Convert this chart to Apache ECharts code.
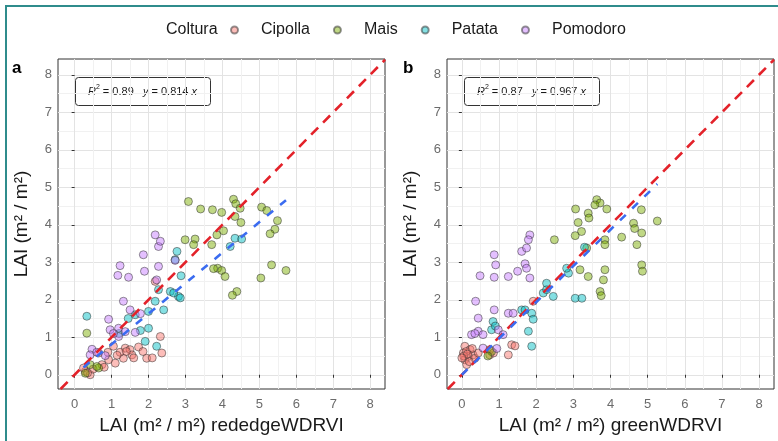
<!DOCTYPE html>
<html>
<head>
<meta charset="utf-8">
<script src="https://cdn.jsdelivr.net/npm/echarts@6/dist/echarts.min.js"></script>
<style>
  html, body { margin: 0; padding: 0; background: #ffffff; }
  #chart { width: 778px; height: 441px; }
</style>
</head>
<body>
<div id="chart"></div>
<script>
// Crop groups and their colours
const crops = ['Cipolla', 'Mais', 'Patata', 'Pomodoro'];
const cropFill = ['rgba(248,118,109,0.6)', 'rgba(124,174,0,0.6)', 'rgba(0,191,196,0.6)', 'rgba(199,124,255,0.6)'];

// Axis ticks (major labelled, minor grid only)
const majorTicks = [0, 1, 2, 3, 4, 5, 6, 7, 8];
const minorTicks = [0.5, 1.5, 2.5, 3.5, 4.5, 5.5, 6.5, 7.5];
const xLimits = [[-0.45, 8.4], [-0.4, 8.4]];
const yLimits = [-0.38, 8.42];

// Panel a: LAI from rededgeWDRVI (x) vs measured LAI (y)
const cipollaA = [[1.05,0.76],[1.37,0.71],[1.5,0.67],[1.73,0.74],[1.95,0.44],[2.32,1.02],[2.36,0.58],[0.92,0.40],[1.1,0.31],[0.74,0.27],[0.29,0.09],[0.24,0.18],[0.42,0.0],[1.32,0.44],[1.55,0.53],[1.23,0.6],[0.65,0.58],[2.18,2.49],[1.85,0.62],[2.1,0.45],[0.5,0.15],[0.9,0.6],[1.6,0.45],[0.35,0.05],[1.15,0.52],[1.4,0.62],[0.8,0.2]];
const maisA = [[3.08,4.62],[3.41,4.42],[3.73,4.40],[3.98,4.33],[4.30,4.68],[4.36,4.56],[4.48,4.44],[4.34,4.22],[4.50,4.06],[5.06,4.47],[5.20,4.38],[5.49,4.11],[5.42,3.88],[5.29,3.76],[4.03,3.84],[3.85,3.73],[3.71,3.47],[3.26,3.62],[3.22,3.47],[2.99,3.6],[3.87,2.84],[3.98,2.78],[4.07,2.62],[3.76,2.83],[5.33,2.93],[5.72,2.78],[5.04,2.58],[4.39,2.22],[4.27,2.12],[0.65,0.18],[0.42,0.27],[0.29,0.04],[0.33,1.11],[0.6,0.22]];
const patataA = [[2.77,3.29],[2.72,3.07],[2.88,2.64],[4.21,3.42],[4.34,3.64],[4.52,3.62],[2.81,2.09],[2.86,2.05],[2.59,2.22],[2.68,2.18],[2.18,1.96],[2.41,1.73],[2.0,1.69],[1.78,1.18],[2.0,1.24],[1.91,0.89],[2.22,0.76],[0.33,1.56],[1.64,1.6],[2.27,2.27],[1.45,1.5],[1.2,1.1]];
const pomodoroA = [[1.23,2.91],[1.17,2.65],[1.46,2.60],[1.86,3.2],[1.89,2.76],[2.27,3.42],[2.27,2.89],[2.72,3.05],[2.22,2.53],[2.18,3.73],[2.32,3.56],[1.32,1.96],[1.5,1.73],[1.78,1.63],[0.92,1.48],[1.19,1.24],[0.96,1.2],[1.37,1.15],[0.47,0.68],[0.42,0.53],[0.83,0.51],[1.19,1.02],[1.64,1.13],[0.6,0.6],[1.05,1.1]];

// Panel b: LAI from greenWDRVI (x) vs measured LAI (y)
const cipollaB = [[0.08,0.76],[0.22,0.67],[0.04,0.58],[0.18,0.49],[0.3,0.53],[0.08,0.4],[0.35,0.44],[0.13,0.27],[0.44,0.58],[1.34,0.8],[1.25,0.53],[0.75,0.53],[1.92,1.96],[1.43,0.77],[0.75,0.67],[0.12,0.62],[0.2,0.35],[0.05,0.5],[0.28,0.7],[0.15,0.55],[0.85,0.58],[0.0,0.45]];
const maisB = [[3.63,4.67],[3.72,4.58],[3.9,4.42],[3.58,4.53],[3.06,4.42],[3.4,4.31],[3.42,4.18],[3.13,4.06],[3.22,3.82],[3.05,3.71],[3.85,3.6],[3.85,3.47],[3.36,3.38],[4.3,3.67],[4.62,4.04],[4.65,3.9],[4.84,3.78],[4.71,3.47],[4.83,4.4],[5.26,4.1],[2.49,3.6],[3.18,2.8],[3.4,2.62],[3.85,2.8],[3.81,2.53],[3.72,2.22],[3.75,2.11],[4.84,2.93],[4.86,2.76],[0.8,0.62],[0.7,0.5]];
const patataB = [[0.84,1.42],[0.8,1.2],[1.79,1.16],[1.88,0.76],[1.88,1.64],[1.92,1.48],[1.61,1.73],[2.19,2.18],[2.46,2.09],[3.05,2.04],[3.23,2.04],[2.28,2.27],[2.28,2.44],[2.87,2.71],[2.82,2.84],[1.7,1.73],[0.9,1.3],[3.3,3.4]];
const pomodoroB = [[0.87,3.2],[0.91,2.93],[0.49,2.64],[0.87,2.6],[1.25,2.62],[1.5,2.76],[1.70,2.96],[1.74,2.84],[1.61,3.29],[1.74,3.38],[1.83,2.58],[1.83,3.73],[1.79,3.6],[0.37,1.96],[0.87,1.73],[1.25,1.64],[1.38,1.64],[0.44,1.51],[0.26,1.07],[0.44,1.16],[0.57,1.07],[0.98,1.2],[1.11,1.07],[0.57,0.71],[0.94,0.7],[0.35,1.1]];

// Fit statistics (regression through the origin)
const slopes = [0.814, 0.967];
const r2s = ['0.89', '0.87'];
const xTitles = ['LAI (m\u00b2 / m\u00b2) rededgeWDRVI', 'LAI (m\u00b2 / m\u00b2) greenWDRVI'];
const yTitle = 'LAI (m\u00b2 / m\u00b2)';
const panelTags = ['a', 'b'];

const panelData = [
  [cipollaA, maisA, patataA, pomodoroA],
  [cipollaB, maisB, patataB, pomodoroB]
];

const grids = [
  { left: 58, top: 59, width: 327, height: 330 },
  { left: 447, top: 59, width: 327, height: 330 }
];

const FONT = 'Liberation Sans, Arial, sans-serif';

function majorAxis(p, isX) {
  const lim = isX ? xLimits[p] : yLimits;
  return {
    type: 'value', gridIndex: p, min: lim[0], max: lim[1],
    position: isX ? 'bottom' : 'left',
    axisLine: { show: false },
    axisTick: { show: true, customValues: majorTicks, length: 3, lineStyle: { color: '#333333', width: 1 } },
    axisLabel: { customValues: majorTicks, color: '#6b6b6b', fontSize: 13, fontFamily: FONT, margin: isX ? 9 : 6 },
    splitLine: { show: true, lineStyle: { color: '#e3e3e3', width: 1 } },
    name: isX ? xTitles[p] : yTitle,
    nameLocation: 'middle',
    nameGap: 27,
    nameTextStyle: { fontSize: 19, color: '#1a1a1a', fontFamily: FONT }
  };
}
function minorAxis(p, isX) {
  const lim = isX ? xLimits[p] : yLimits;
  return {
    type: 'value', gridIndex: p, min: lim[0], max: lim[1],
    position: isX ? 'top' : 'right',
    axisLine: { show: false },
    axisTick: { show: false, customValues: minorTicks },
    axisLabel: { show: false, customValues: minorTicks },
    splitLine: { show: true, lineStyle: { color: '#f1f1f1', width: 1 } }
  };
}

const xAxes = [], yAxes = [], series = [];
for (let p = 0; p < 2; p++) {
  xAxes.push(majorAxis(p, true), minorAxis(p, true));
  yAxes.push(majorAxis(p, false), minorAxis(p, false));
  const ax = 2 * p;
  let xs = [];
  panelData[p].forEach((pts, i) => {
    xs = xs.concat(pts.map(d => d[0]));
    series.push({
      type: 'scatter', name: crops[i], xAxisIndex: ax, yAxisIndex: ax,
      data: pts, symbol: 'circle', symbolSize: 8,
      itemStyle: { color: cropFill[i], borderColor: 'rgba(50,50,50,0.65)', borderWidth: 1 },
      z: 3
    });
  });
  // 1:1 line across the whole panel
  const lo = Math.max(xLimits[p][0], yLimits[0]);
  const hi = Math.min(xLimits[p][1], yLimits[1]);
  series.push({
    type: 'line', xAxisIndex: ax, yAxisIndex: ax, symbol: 'none', silent: true,
    data: [[lo, lo], [hi, hi]],
    lineStyle: { color: '#e3222a', width: 2.6, type: [10, 7] }, z: 4
  });
  // fitted line y = slope * x over the data range
  const x0 = Math.min(...xs), x1 = Math.max(...xs);
  series.push({
    type: 'line', xAxisIndex: ax, yAxisIndex: ax, symbol: 'none', silent: true,
    data: [[x0, slopes[p] * x0], [x1, slopes[p] * x1]],
    lineStyle: { color: '#3b6cf0', width: 2.6, type: [8, 9] }, z: 5
  });
}

const graphics = [
  { type: 'rect', shape: { x: 6, y: 6, width: 800, height: 460 }, style: { fill: 'none', stroke: '#2f8c8c', lineWidth: 2 }, z: 100 },
  { type: 'text', x: 166, y: 30, style: { text: 'Coltura', fontSize: 16, fill: '#1a1a1a', fontFamily: FONT, verticalAlign: 'middle' } }
];
const boxX = [75, 464];
for (let p = 0; p < 2; p++) {
  graphics.push({
    type: 'text', left: p === 0 ? 12 : 403, top: 60,
    style: { text: panelTags[p], fontSize: 17, fontWeight: 'bold', fill: '#000', fontFamily: FONT }
  });
  graphics.push({
    type: 'group', left: boxX[p], top: 77, children: [
      { type: 'rect', shape: { x: 0, y: 0, width: 135, height: 28, r: 3 }, style: { fill: '#fff', stroke: '#333', lineWidth: 1 } },
      { type: 'text', x: 67, y: 14, style: {
        text: '{i|R}{s|2}{n| = ' + r2s[p] + '   }{i|y}{n| = ' + slopes[p].toFixed(3) + ' }{i|x}',
        align: 'center', verticalAlign: 'middle', fill: '#1a1a1a', fontFamily: FONT,
        rich: {
          i: { fontSize: 11, fontStyle: 'italic', fontFamily: FONT, fill: '#1a1a1a' },
          n: { fontSize: 11, fontFamily: FONT, fill: '#1a1a1a' },
          s: { fontSize: 7, fontFamily: FONT, fill: '#1a1a1a', padding: [0, 0, 8, 0] }
        }
      } }
    ]
  });
}

const chart = echarts.init(document.getElementById('chart'), null, { renderer: 'canvas' });
chart.setOption({
  animation: false,
  backgroundColor: '#ffffff',
  grid: grids.map(g => Object.assign({ show: true, backgroundColor: '#ffffff', borderColor: '#333333', borderWidth: 1, containLabel: false }, g)),
  xAxis: xAxes,
  yAxis: yAxes,
  legend: {
    data: crops, left: 230, top: 22, padding: 0, icon: 'circle', itemWidth: 7, itemHeight: 7, itemGap: 23,
    textStyle: { fontSize: 16, color: '#1a1a1a', fontFamily: FONT, padding: [0, 0, 0, 18] }
  },
  series: series,
  graphic: graphics
});
</script>
</body>
</html>
